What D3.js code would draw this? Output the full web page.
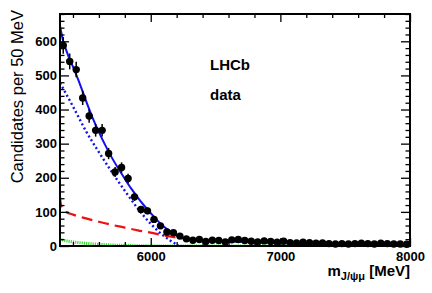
<!DOCTYPE html>
<html>
<head>
<meta charset="utf-8">
<script src="https://cdn.jsdelivr.net/npm/d3@7"></script>
<style>
body{margin:0;background:white;}
svg{display:block;font-family:"Liberation Sans",Arial,Helvetica,sans-serif;}
</style>
</head>
<body>
<div id="chart"></div>
<script>
// data points (bin centres, MeV) and counts per 50 MeV
const massBins=[5325,5375,5425,5475,5525,5575,5625,5675,5725,5775,5825,5875,5925,5975,6025,6075,6125,6175,6225,6275,
    6325,6375,6425,6475,6525,6575,6625,6675,6725,6775,6825,6875,6925,6975,7025,7075,7125,7175,7225,7275,
    7325,7375,7425,7475,7525,7575,7625,7675,7725,7775,7825,7875,7925,7975];
const counts=[588,541,517,434,381,339,339,271,217,230,198,144,107,103,78,59,41,39,29,21,
    17,19,13,17,16,12,18,19,16,14,12,15,13,11,14,10,9,11,10,8,
    9,7,6,7,6,7,8,7,6,8,7,6,6,5];

// fit components
const totalMass=[5300,5325,5350,5375,5400,5450,5500,5550,5600,5650,5700,5750,5800,5850,5900,5950,6000,6050,6100,6150,6200,6250,6300,6400,6600,6800,7000,7500,8000];
const totalFit=[645,600,572,546,526,478,426,377,334,295,259,227,197,168,142,118,96,75,57,43,31,23,18,15,13,11,9,7,5];

const signalMass=[5300,5400,5500,5600,5700,5800,5900,6000,6100,6150,6200,6215];
const signalFit=[478,409,337,275,217,162,110,65,30,16,4,0];

const combMass=[5300,5305,5315,5330,5350,5400,5500,5600,5700,5800,5900,6000,6100,6200,6280];
const combFit=[145,126,112,104,99,92,81,71,62,54,46,39,31,25,21];

const misidMass=[5300,5350,5400,5500,5600,5700,5800,5950,6200,8000];
const misidFit=[20,15,12,8,5,3,1.5,0.5,0,0];

const xMajor=[6000,7000,8000];
const yMajor=[0,100,200,300,400,500,600];

const width=432,height=293;
const margin={left:60,right:22,top:14,bottom:47};

const svg=d3.select("#chart")
    .append("svg")
    .attr("width",width)
    .attr("height",height);

svg.append("rect")
    .attr("width",width)
    .attr("height",height)
    .attr("fill","white");

const x=d3.scaleLinear().domain([5300,8000]).range([margin.left,width-margin.right]);
const y=d3.scaleLinear().domain([0,680]).range([height-margin.bottom,margin.top]);

const plot=svg.append("g");
plot.append("clipPath").attr("id","clip")
    .append("rect")
    .attr("x",margin.left).attr("y",margin.top)
    .attr("width",x(8000)-x(5300)).attr("height",y(0)-y(680));

function curve(xs,ys,color,width,dash){
    const line=d3.line()
        .x(d=>x(d[0]))
        .y(d=>y(d[1]))
        .curve(d3.curveMonotoneX);
    plot.append("path")
        .datum(xs.map((v,i)=>[v,ys[i]]))
        .attr("d",line)
        .attr("fill","none")
        .attr("stroke",color)
        .attr("stroke-width",width)
        .attr("stroke-dasharray",dash)
        .attr("clip-path","url(#clip)");
}

curve(misidMass,misidFit,"#33dd33",3,"1.2,1");
curve(combMass,combFit,"#ee1111",2.2,"11,6");
curve(signalMass,signalFit,"#1111ee",2.4,"2,2.6");
curve(totalMass,totalFit,"#1111ee",2,null);

// data points with errors
const pts=plot.selectAll(".pt")
    .data(massBins.map((m,i)=>[m,counts[i]]))
    .enter()
    .append("g")
    .attr("class","pt");

pts.append("line")
    .attr("x1",d=>x(d[0])).attr("x2",d=>x(d[0]))
    .attr("y1",d=>y(d[1]+Math.sqrt(d[1])))
    .attr("y2",d=>y(Math.max(0,d[1]-Math.sqrt(d[1]))))
    .attr("stroke","black").attr("stroke-width",1.5);

pts.append("line")
    .attr("x1",d=>x(d[0]-25)).attr("x2",d=>x(d[0]+25))
    .attr("y1",d=>y(d[1])).attr("y2",d=>y(d[1]))
    .attr("stroke","black").attr("stroke-width",1.5);

pts.append("circle")
    .attr("cx",d=>x(d[0]))
    .attr("cy",d=>y(d[1]))
    .attr("r",3.7)
    .attr("fill","black");

// axes
const xMinor=d3.range(5400,8001,200).filter(v=>!xMajor.includes(v));
const yMinor=d3.range(20,681,20).filter(v=>!yMajor.includes(v));

function styleAxis(g){
    g.select(".domain").remove();
    g.selectAll(".tick line").attr("stroke","black").attr("stroke-width",1.3);
    g.selectAll("text")
        .attr("fill","black")
        .style("font-size","13px")
        .style("font-weight","bold");
}

svg.append("g").attr("transform",`translate(0,${y(0)})`)
    .call(d3.axisBottom(x).tickValues(xMajor).tickSize(-8).tickPadding(6).tickFormat(d3.format("d")))
    .call(styleAxis);
svg.append("g").attr("transform",`translate(0,${y(0)})`)
    .call(d3.axisBottom(x).tickValues(xMinor).tickSize(-4).tickFormat(""))
    .call(styleAxis);
svg.append("g").attr("transform",`translate(0,${margin.top})`)
    .call(d3.axisTop(x).tickValues(xMajor).tickSize(-8).tickFormat(""))
    .call(styleAxis);
svg.append("g").attr("transform",`translate(0,${margin.top})`)
    .call(d3.axisTop(x).tickValues(xMinor).tickSize(-4).tickFormat(""))
    .call(styleAxis);

svg.append("g").attr("transform",`translate(${margin.left},0)`)
    .call(d3.axisLeft(y).tickValues(yMajor).tickSize(-9).tickPadding(3))
    .call(styleAxis);
svg.append("g").attr("transform",`translate(${margin.left},0)`)
    .call(d3.axisLeft(y).tickValues(yMinor).tickSize(-4.5).tickFormat(""))
    .call(styleAxis);
svg.append("g").attr("transform",`translate(${width-margin.right},0)`)
    .call(d3.axisRight(y).tickValues(yMajor).tickSize(-9).tickFormat(""))
    .call(styleAxis);
svg.append("g").attr("transform",`translate(${width-margin.right},0)`)
    .call(d3.axisRight(y).tickValues(yMinor).tickSize(-4.5).tickFormat(""))
    .call(styleAxis);

// frame
svg.append("rect")
    .attr("x",margin.left).attr("y",margin.top)
    .attr("width",x(8000)-x(5300)).attr("height",y(0)-y(680))
    .attr("fill","none")
    .attr("stroke","black")
    .attr("stroke-width",2);

// labels
svg.append("text")
    .attr("transform",`translate(23,${margin.top-4}) rotate(-90)`)
    .attr("text-anchor","end")
    .style("font-size","16.5px")
    .text("Candidates per 50 MeV");

const xt=svg.append("text")
    .attr("x",x(8000))
    .attr("y",276)
    .attr("text-anchor","end")
    .style("font-size","15px")
    .style("font-weight","bold");
xt.append("tspan").text("m");
xt.append("tspan").attr("dy",4).style("font-size","11px").text("J/\u03c8\u03bc");
xt.append("tspan").attr("dy",-4).text(" [MeV]");

svg.append("text")
    .attr("x",210).attr("y",70)
    .style("font-size","15px")
    .style("font-weight","bold")
    .text("LHCb");

svg.append("text")
    .attr("x",210).attr("y",100)
    .style("font-size","15px")
    .style("font-weight","bold")
    .text("data");
</script>
</body>
</html>
